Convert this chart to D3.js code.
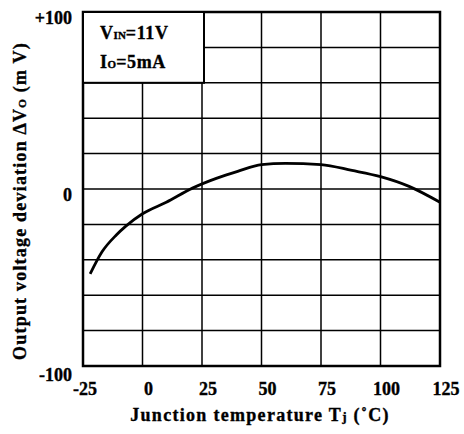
<!DOCTYPE html>
<html>
<head>
<meta charset="utf-8">
<script src="https://cdn.jsdelivr.net/npm/d3@7"></script>
<style>
  body { margin: 0; background: #fff; }
  text { font-family: "Liberation Serif", "Times New Roman", serif; font-weight: bold; fill: #000; stroke: #000; stroke-width: 0.35px; }
</style>
</head>
<body>
<div id="chart"></div>
<script>
// data
var temps = [-22, -17, -11, -7, 0, 10, 21, 31, 40, 50, 60, 75, 88, 100, 112, 125];
var deltaV = [-48, -35.5, -26, -21, -14, -7.5, 0.5, 6, 10, 13.8, 14.5, 13.8, 10.5, 7, 1.5, -7.5];
var xTicks = [-25, 0, 25, 50, 75, 100, 125];
var yGrid = [-100, -80, -60, -40, -20, 0, 20, 40, 60, 80, 100];
var yLabels = [[-100, '-100'], [0, '0'], [100, '+100']];

var width = 464, height = 434;
var margin = { top: 12, right: 24, bottom: 68, left: 83 };

var svg = d3.select('#chart').append('svg')
   .attr('width', width)
   .attr('height', height);

var x = d3.scaleLinear().domain([-25, 125]).range([margin.left, width - margin.right]);
var y = d3.scaleLinear().domain([-100, 100]).range([height - margin.bottom, margin.top]);

// grid
svg.append('g').selectAll('line.v')
   .data(xTicks)
   .enter().append('line')
   .attr('x1', function(d) { return x(d); })
   .attr('x2', function(d) { return x(d); })
   .attr('y1', y(-100))
   .attr('y2', y(100))
   .attr('stroke', '#000')
   .attr('stroke-width', 1.5);

svg.append('g').selectAll('line.h')
   .data(yGrid)
   .enter().append('line')
   .attr('x1', x(-25))
   .attr('x2', x(125))
   .attr('y1', function(d) { return y(d); })
   .attr('y2', function(d) { return y(d); })
   .attr('stroke', '#000')
   .attr('stroke-width', 1.5);

// frame
svg.append('rect')
   .attr('x', x(-25))
   .attr('y', y(100))
   .attr('width', x(125) - x(-25))
   .attr('height', y(-100) - y(100))
   .attr('fill', 'none')
   .attr('stroke', '#000')
   .attr('stroke-width', 2.5);

// condition box
svg.append('rect')
   .attr('x', x(-25))
   .attr('y', y(100))
   .attr('width', x(25) - x(-25) + 2)
   .attr('height', y(60) - y(100))
   .attr('fill', '#fff')
   .attr('stroke', '#000')
   .attr('stroke-width', 2);

var t1 = svg.append('text').attr('x', 100).attr('y', 39)
   .style('font-size', '18px').style('letter-spacing', '0.6px');
t1.append('tspan').text('V');
t1.append('tspan').text('IN').style('font-size', '11px').style('letter-spacing', '0');
t1.append('tspan').text('=11V');

var t2 = svg.append('text').attr('x', 100).attr('y', 68)
   .style('font-size', '18px').style('letter-spacing', '0.6px');
t2.append('tspan').text('I');
t2.append('tspan').text('O').style('font-size', '11px').style('letter-spacing', '0');
t2.append('tspan').text('=5mA');

// curve
var line = d3.line()
   .x(function(d, i) { return x(temps[i]); })
   .y(function(d) { return y(d); })
   .curve(d3.curveMonotoneX);

svg.append('path')
   .attr('d', line(deltaV))
   .attr('fill', 'none')
   .attr('stroke', '#000')
   .attr('stroke-width', 2.8)
   .attr('stroke-linejoin', 'round');

// tick labels
svg.append('g').selectAll('text')
   .data(xTicks)
   .enter().append('text')
   .attr('x', function(d) { return x(d) + (d === -25 ? 2 : 6); })
   .attr('y', 395)
   .attr('text-anchor', 'middle')
   .style('font-size', '18px')
   .text(function(d) { return d; });

svg.append('g').selectAll('text')
   .data(yLabels)
   .enter().append('text')
   .attr('x', 72)
   .attr('y', function(d) { return y(d[0]) + 12 + (d[0] < 0 ? 3 : 0); })
   .attr('text-anchor', 'end')
   .style('font-size', '18px')
   .text(function(d) { return d[1]; });

// axis titles
var xt = svg.append('text')
   .attr('x', 260)
   .attr('y', 421)
   .attr('text-anchor', 'middle')
   .style('font-size', '18px')
   .style('letter-spacing', '1.3px');
xt.append('tspan').text('Junction temperature T');
xt.append('tspan').text('j').style('font-size', '13px');
xt.append('tspan').text(' (˚C)');

var yt = svg.append('text')
   .attr('transform', 'translate(26,201) rotate(-90)')
   .attr('text-anchor', 'middle')
   .style('font-size', '18px')
   .style('letter-spacing', '1.2px');
yt.append('tspan').text('Output voltage deviation ΔV');
yt.append('tspan').text('O').style('font-size', '11px');
yt.append('tspan').text(' (m V)');
</script>
</body>
</html>
